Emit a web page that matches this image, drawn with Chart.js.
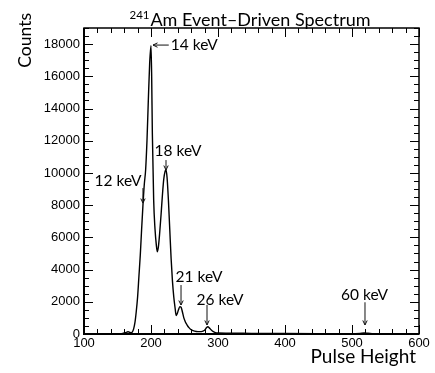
<!DOCTYPE html>
<html><head><meta charset="utf-8">
<script src="https://cdn.jsdelivr.net/npm/chart.js@4"></script>
<style>html,body{margin:0;padding:0;background:#fff;}</style>
</head><body>
<canvas id="c" width="435" height="373"></canvas>
<script>
// ---- data ----
const pulseHeight = [100,120,140,150,156,160,164,166,168,170,172,174,176,178,180,182,184,186,188,190,192,194,196,198,200,201,202,204,206,208,209.5,211,213,215,217,219,221,222.4,224,226,228,230,232,234,236,237.5,239,241,243,245,247,249,251,253,255,257,259,261,265,270,275,280,283,285,287,290,293,296,300,320,350,400,450,500,512,518,524,532,550,600];
const counts = [5,5,8,10,20,60,120,140,110,80,120,300,700,1400,2300,3600,4900,6500,8000,9300,10200,12000,14500,16800,17900,16000,12500,8300,6500,5500,5100,5400,6300,7400,8600,9600,10100,10200,9700,8300,6500,4700,3300,2300,1600,1150,1250,1500,1700,1650,1350,1000,780,620,480,380,300,240,180,150,150,230,400,450,380,250,150,90,60,50,40,30,25,20,40,60,45,20,10,5];
const xTicks = [100,200,300,400,500,600];
const yTicks = [0,2000,4000,6000,8000,10000,12000,14000,16000,18000];
const xMinorStep = 20;
const yMinorStep = 500;
const titleSup = '241';
const titleMain = 'Am Event\u2013Driven Spectrum';
const xTitle = 'Pulse Height';
const yTitle = 'Counts';
// peak annotations (in data units)
const peakNames  = ['12 keV','14 keV','18 keV','21 keV','26 keV','60 keV'];
const arrowTipX  = [188, 203, 222.4, 244.8, 283.6, 519.4];
const arrowTipY  = [8130, 17940, 10180, 1800, 560, 560];
const arrowTailX = [188, 226.5, 222.4, 244.8, 283.6, 519.4];
const arrowTailY = [9060, 17940, 10800, 3040, 1800, 1970];
const labelX     = [150.7, 229.5, 240.3, 271.6, 303, 518.7];
const labelY     = [9500, 17940, 11360, 3540, 2100, 2420];
const labelAlign = ['center','left','center','center','center','center'];

const GILL = 'Lato, "Open Sans", sans-serif';

const decor = {
  id: 'decor',
  afterDraw(chart) {
    const {ctx, chartArea: a, scales: {x, y}} = chart;
    ctx.save();
    ctx.strokeStyle = '#000';
    // ticks
    ctx.lineWidth = 1;
    const maj = 9, min = 5;
    for (let v = x.min; v <= x.max + 1e-6; v += xMinorStep) {
      const px = Math.round(x.getPixelForValue(v)) + 0.5;
      const L = xTicks.includes(v) ? maj : min;
      ctx.beginPath(); ctx.moveTo(px, a.bottom); ctx.lineTo(px, a.bottom - L); ctx.stroke();
      ctx.beginPath(); ctx.moveTo(px, a.top); ctx.lineTo(px, a.top + L); ctx.stroke();
    }
    for (let v = y.min; v <= y.max + 1e-6; v += yMinorStep) {
      const py = Math.round(y.getPixelForValue(v)) + 0.5;
      const L = yTicks.includes(v) ? maj : min;
      ctx.beginPath(); ctx.moveTo(a.left, py); ctx.lineTo(a.left + L, py); ctx.stroke();
      ctx.beginPath(); ctx.moveTo(a.right, py); ctx.lineTo(a.right - L, py); ctx.stroke();
    }
    // frame
    ctx.lineWidth = 1.5;
    ctx.strokeRect(a.left, a.top, a.right - a.left, a.bottom - a.top);
    ctx.lineWidth = 2;
    ctx.beginPath(); ctx.moveTo(a.left, a.top); ctx.lineTo(a.left, a.bottom); ctx.lineTo(a.right, a.bottom); ctx.stroke();

    ctx.fillStyle = '#000';
    ctx.textBaseline = 'alphabetic';
    // title with superscript
    const supFont = '11.5px ' + GILL, mainFont = '18px ' + GILL;
    ctx.font = supFont; const ws = ctx.measureText(titleSup).width;
    ctx.font = mainFont; const wm = ctx.measureText(titleMain).width;
    const cx = 250;
    const x0 = cx - (ws + wm + 1) / 2;
    ctx.textAlign = 'left';
    ctx.font = supFont; ctx.fillText(titleSup, x0, 19);
    ctx.font = mainFont; ctx.fillText(titleMain, x0 + ws + 1, 26);

    // axis titles
    ctx.font = '19px ' + GILL;
    ctx.textAlign = 'right';
    ctx.fillText(xTitle, a.right - 3, 363);
    ctx.save();
    ctx.translate(31, 13);
    ctx.rotate(-Math.PI / 2);
    ctx.font = '17.5px ' + GILL;
    ctx.textAlign = 'right';
    ctx.fillText(yTitle, 0, 0);
    ctx.restore();

    // annotations
    ctx.lineWidth = 1;
    ctx.strokeStyle = '#111';
    ctx.font = '15.5px ' + GILL;
    ctx.textBaseline = 'middle';
    for (let i = 0; i < peakNames.length; i++) {
      const tx = x.getPixelForValue(arrowTipX[i]), ty = y.getPixelForValue(arrowTipY[i]);
      const sx = x.getPixelForValue(arrowTailX[i]), sy = y.getPixelForValue(arrowTailY[i]);
      ctx.beginPath(); ctx.moveTo(sx, sy); ctx.lineTo(tx, ty); ctx.stroke();
      const ang = Math.atan2(ty - sy, tx - sx), h = 5, w = 0.45;
      ctx.beginPath();
      ctx.moveTo(tx - h * Math.cos(ang - w), ty - h * Math.sin(ang - w));
      ctx.lineTo(tx, ty);
      ctx.lineTo(tx - h * Math.cos(ang + w), ty - h * Math.sin(ang + w));
      ctx.stroke();
      ctx.textAlign = labelAlign[i];
      ctx.fillText(peakNames[i], x.getPixelForValue(labelX[i]), y.getPixelForValue(labelY[i]));
    }
    ctx.restore();
  }
};

new Chart(document.getElementById('c'), {
  type: 'scatter',
  data: {
    datasets: [{
      data: pulseHeight.map((v, i) => ({x: v, y: counts[i]})),
      showLine: true,
      borderColor: '#000',
      borderWidth: 1.4,
      pointRadius: 0,
      cubicInterpolationMode: 'monotone',
      fill: false
    }]
  },
  options: {
    responsive: false,
    animation: false,
    devicePixelRatio: 1,
    layout: {padding: {left: 0, top: 28, right: 16, bottom: 0}},
    plugins: {legend: {display: false}, tooltip: {enabled: false}, title: {display: false}},
    scales: {
      x: {
        type: 'linear', min: 100, max: 600,
        afterFit(s) { s.height = 39; },
        afterBuildTicks(s) { s.ticks = xTicks.map(v => ({value: v})); },
        grid: {display: false, drawTicks: false},
        border: {display: false},
        ticks: {font: {family: '"Liberation Sans", Arial', size: 13}, color: '#000', padding: 2,
                maxRotation: 0, autoSkip: false, callback: v => String(v)}
      },
      y: {
        type: 'linear', min: 0, max: 19000,
        afterFit(s) { s.width = 84; },
        afterBuildTicks(s) { s.ticks = yTicks.map(v => ({value: v})); },
        grid: {display: false, drawTicks: false},
        border: {display: false},
        ticks: {font: {family: '"Liberation Sans", Arial', size: 13}, color: '#000', padding: 4,
                autoSkip: false, callback: v => String(v)}
      }
    }
  },
  plugins: [decor]
});
</script>
</body></html>
